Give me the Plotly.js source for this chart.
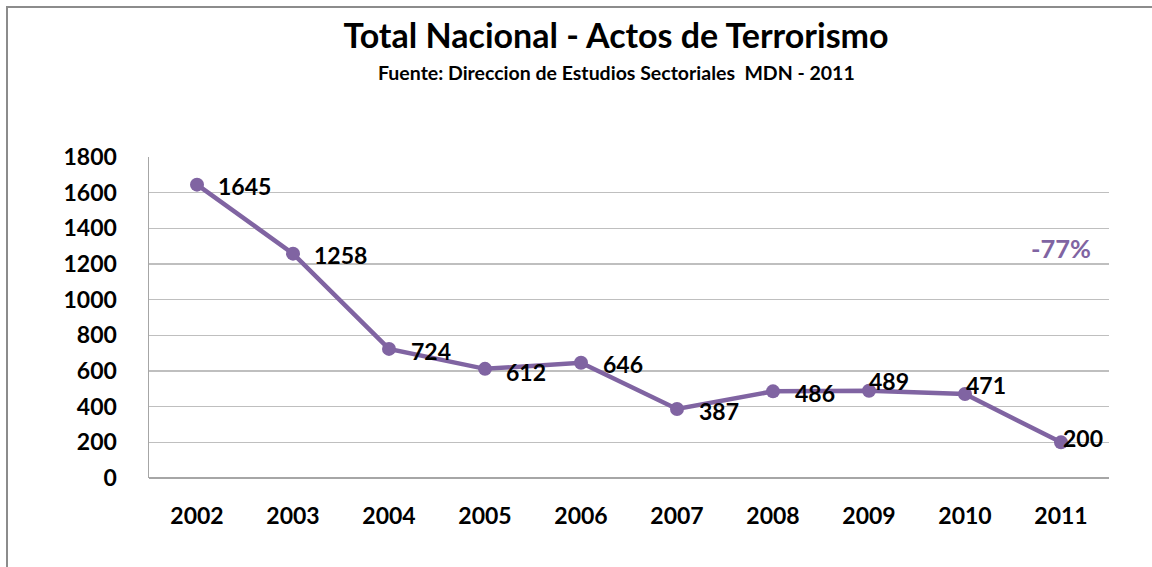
<!DOCTYPE html>
<html>
<head>
<meta charset="utf-8">
<script src="https://cdn.plot.ly/plotly-3.0.1.min.js"></script>
<style>
html,body{margin:0;padding:0;background:#fff;}
#wrap{position:absolute;left:0;top:0;width:1152px;height:567px;overflow:hidden;}
#frame{position:absolute;left:6px;top:6px;width:1160px;height:600px;border-left:2px solid #8c8c8c;border-top:2px solid #8c8c8c;pointer-events:none;}
#chart{position:absolute;left:0;top:0;width:1152px;height:567px;}
</style>
</head>
<body>
<div id="wrap"><div id="chart"></div><div id="frame"></div></div>
<script>
const years = ['2002','2003','2004','2005','2006','2007','2008','2009','2010','2011'];
const actos = [1645,1258,724,612,646,387,486,489,471,200];
// label offsets in pixels (right of / above the marker)
const labelDx = [19,19,20,19,20,20,20,-2,-1,0];
const labelDy = [-1,-1,-2,-3,-1,-2,-2,10,9,4];
const changeLabel = '-77%';

const FONT = 'Lato, "Open Sans", sans-serif';
const purple = '#8064A2';

const trace = {
  x: years, y: actos, type: 'scatter', mode: 'lines+markers',
  line: {color: purple, width: 4.5},
  marker: {color: purple, size: 14},
  cliponaxis: false,
  hoverinfo: 'skip'
};

// category axis: annotation x is the category index
const labelAnns = years.map((yr, i) => ({
  xref: 'x', yref: 'y', x: i, y: actos[i], text: '<b>' + actos[i] + '</b>', showarrow: false,
  xanchor: 'left', yanchor: 'middle', xshift: labelDx[i], yshift: labelDy[i],
  font: {family: FONT, size: 23, color: '#000', weight: 'bold'}
}));

const layout = {
  width: 1152, height: 567,
  margin: {l: 149, r: 43, t: 157, b: 89},
  paper_bgcolor: '#fff', plot_bgcolor: '#fff',
  showlegend: false,
  title: {text: '<b>Total Nacional - Actos de Terrorismo</b>', font: {family: FONT, size: 34, color: '#000', weight: 'bold'},
          x: 616 / 1152, xanchor: 'center', y: 1 - 36 / 567, yanchor: 'middle'},
  xaxis: {type: 'category', range: [-0.5, 9.5], showgrid: false, zeroline: false,
          showline: false, ticks: '', ticklabelstandoff: 22,
          tickfont: {family: FONT, size: 23, color: '#000', weight: 'bold'}},
  yaxis: {range: [0, 1800], dtick: 200, showgrid: true, gridcolor: '#bfbfbf', gridwidth: 1.5,
          zeroline: true, zerolinecolor: '#a6a6a6', zerolinewidth: 1.5,
          showline: true, linecolor: '#a6a6a6', linewidth: 1.5, ticks: '', ticklabelstandoff: 26,
          tickfont: {family: FONT, size: 23, color: '#000', weight: 'bold'}},
  annotations: [
    {xref: 'paper', yref: 'paper', x: (616 - 149) / 960, y: 1 + (157 - 72) / 321, xanchor: 'center', yanchor: 'middle',
     text: '<b>Fuente: Direccion de Estudios Sectoriales  MDN - 2011</b>', showarrow: false,
     font: {family: FONT, size: 19.5, color: '#000', weight: 'bold'}},
    {xref: 'x', yref: 'y', x: years.length - 1, y: 1290, text: '<b>' + changeLabel + '</b>', showarrow: false,
     xanchor: 'center', yanchor: 'middle', font: {family: FONT, size: 25.5, color: purple, weight: 'bold'}}
  ].concat(labelAnns)
};

Plotly.newPlot('chart', [trace], layout, {displayModeBar: false, staticPlot: true});
</script>
</body>
</html>
